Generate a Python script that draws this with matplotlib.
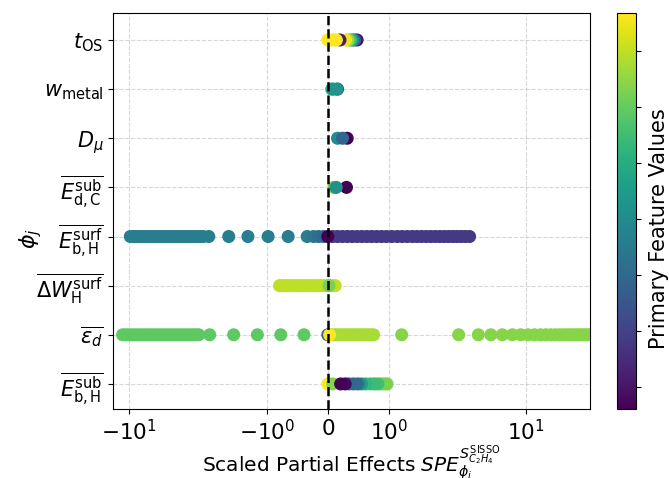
import matplotlib
matplotlib.use("Agg")
import matplotlib.pyplot as plt
import numpy as np
from matplotlib.colors import Normalize
from matplotlib.cm import ScalarMappable

# ---------------- data ----------------
feature_labels = [
    r"$\overline{E_{\rm b,H}^{\rm sub}}$",
    r"$\overline{\varepsilon_d}$",
    r"$\overline{\Delta W_{\rm H}^{\rm surf}}$",
    r"$\overline{E_{\rm b,H}^{\rm surf}}$",
    r"$\overline{E_{\rm d,C}^{\rm sub}}$",
    r"$D_{\mu}$",
    r"$w_{\rm metal}$",
    r"$t_{\rm OS}$",
]

# scaled partial effects per feature (listed in drawing order) and colour values
ebh_sub_x = [0.97, 0.93, 0.88, 0.82, 0.76, 0.70, 0.62, 0.55, 0.49, 0.42, 0.35,
             0.0, 0.08, 0.285, 0.21]
ebh_sub_c = [0.80, 0.80, 0.79, 0.70, 0.69, 0.68, 0.66, 0.55, 0.35, 0.34, 0.33,
             1.0, 0.82, 0.02, 0.0]

eps_d_left_x = [-11.2, -10.6, -10.0, -9.43, -8.89, -8.39, -7.90, -7.45, -7.03,
                -6.63, -6.25, -5.90, -5.56, -5.24, -4.94, -4.66, -4.39, -4.14,
                -3.91, -3.68, -3.47, -3.30, -3.13, -2.60, -1.74, -1.17, -0.77, -0.39]
eps_d_near_x = [0.05, 0.10, 0.15, 0.20, 0.25, 0.30, 0.35, 0.40, 0.45, 0.50,
                0.55, 0.60, 0.65, 0.70, 0.75]
eps_d_far_x = [1.24, 3.22, 4.48, 5.53, 6.70, 7.92, 9.10, 10.3, 11.5, 12.7, 13.9,
               15.1, 16.3, 17.5, 18.7, 19.9, 21.1, 22.3, 23.5, 24.7, 25.9, 27.1,
               28.3, 29.5]
eps_d_zero_x = [0.0, 0.03]
eps_d_x = eps_d_left_x + eps_d_near_x + eps_d_far_x + eps_d_zero_x
eps_d_c = ([0.75] * len(eps_d_left_x) + [0.87] * len(eps_d_near_x)
           + [0.82] * len(eps_d_far_x) + [0.30, 1.0])

dw_x = [-0.79, -0.75, -0.70, -0.65, -0.60, -0.55, -0.50, -0.45, -0.40, -0.35,
        -0.30, -0.25, -0.20, -0.15, -0.10, -0.05, 0.0, 0.06, 0.12, 0.02]
dw_c = [0.90] * 19 + [0.80]

ebh_surf_right_x = [0.08, 0.16, 0.24, 0.32, 0.40, 0.48, 0.56, 0.64, 0.72, 0.80,
                    0.88, 0.96, 1.05, 1.15, 1.25, 1.36, 1.48, 1.60, 1.73, 1.87,
                    2.02, 2.18, 2.35, 2.53, 2.72, 2.92, 3.13, 3.35, 3.60, 3.87]
ebh_surf_left_x = [-9.84, -9.28, -8.76, -8.26, -7.80, -7.35, -6.94, -6.55, -6.18,
                   -5.83, -5.50, -5.19, -4.89, -4.62, -4.35, -4.11, -3.87, -3.65,
                   -3.45, -3.25, -3.07, -2.90, -2.64, -1.89, -1.37, -0.977,
                   -0.649, -0.338]
ebh_surf_zero_x = [-0.234, -0.152, -0.070, 0.0]
ebh_surf_x = ebh_surf_right_x + ebh_surf_left_x + ebh_surf_zero_x
ebh_surf_c = ([0.17] * len(ebh_surf_right_x) + [0.42] * len(ebh_surf_left_x)
              + [0.40, 0.36, 0.33, 0.0])

edc_sub_x = [0.306, 0.09, 0.11, 0.138]
edc_sub_c = [0.0, 1.0, 0.75, 0.50]

dmu_x = [0.318, 0.159, 0.241]
dmu_c = [0.0, 0.48, 0.33]

wmetal_x = [0.16, 0.065, 0.09, 0.15]
wmetal_c = [0.15, 0.62, 0.52, 0.52]

tos_x = [0.48, 0.44, 0.405, 0.37, 0.33, 0.29, 0.20, 0.14, 0.10, 0.05, 0.0]
tos_c = [0.05, 0.30, 0.50, 0.70, 0.85, 0.98, 0.08, 1.0, 1.0, 1.0, 1.0]

series_x = [ebh_sub_x, eps_d_x, dw_x, ebh_surf_x, edc_sub_x, dmu_x, wmetal_x, tos_x]
series_c = [ebh_sub_c, eps_d_c, dw_c, ebh_surf_c, edc_sub_c, dmu_c, wmetal_c, tos_c]

xtick_vals = [-10, -1, 0, 1, 10]

# ---------------- figure ----------------
fig = plt.figure(figsize=(6.69, 4.78), dpi=100)
ax = fig.add_axes([0.1689, 0.1444, 0.713, 0.8285])
cax = fig.add_axes([0.9223, 0.1444, 0.0284, 0.8285])

norm = Normalize(0, 1)
for i, (xs, cs) in enumerate(zip(series_x, series_c)):
    ax.scatter(xs, [i] * len(xs), c=cs, cmap="viridis", norm=norm, s=70, zorder=3)

ax.axvline(0, color="black", linestyle="--", linewidth=1.8, zorder=4)

ax.set_xscale("symlog", linthresh=1, linscale=0.4)
ax.set_xlim(-13.15, 29.1)
ax.set_ylim(-0.51, 7.55)
ax.set_xticks(xtick_vals)
ax.set_yticks(range(len(feature_labels)))
ax.set_yticklabels(feature_labels)
ax.tick_params(axis="x", labelsize=15.5)
ax.tick_params(axis="y", labelsize=15)
ax.grid(True, linestyle="--", alpha=0.5)
ax.set_axisbelow(True)

ax.set_xlabel(r"Scaled Partial Effects $SPE_{\phi_i}^{S_{C_2H_4}^{\rm SISSO}}$",
              fontsize=14.5, labelpad=0)
ax.set_ylabel(r"$\phi_j$", fontsize=16)
ax.yaxis.set_label_coords(-0.145, 0.43)

sm = ScalarMappable(norm=Normalize(-3.39, 3.68), cmap="viridis")
cbar = fig.colorbar(sm, cax=cax, ticks=[-3, -2, -1, 0, 1, 2, 3])
cbar.set_ticklabels([])
cbar.set_label("Primary Feature Values", fontsize=15)
cax.yaxis.set_label_coords(1.68, 0.455)

fig.savefig("out.png", dpi=100)
